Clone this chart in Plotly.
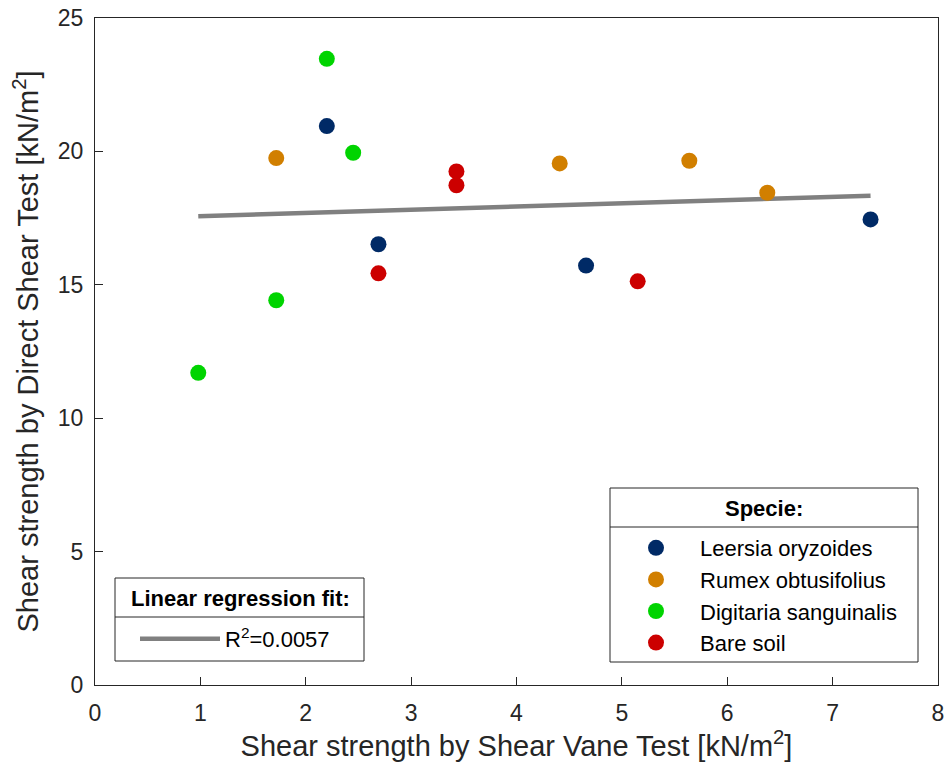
import numpy as np
import plotly.graph_objects as go

# ---- data ----
species = ["Leersia oryzoides", "Rumex obtusifolius", "Digitaria sanguinalis", "Bare soil"]
colors = ["#002A66", "#D17F00", "#00D400", "#CC0000"]

leersia_x = [2.20, 2.69, 4.66, 7.36]
leersia_y = [20.95, 16.52, 15.72, 17.45]
rumex_x = [1.72, 4.41, 5.64, 6.38]
rumex_y = [19.75, 19.55, 19.65, 18.45]
digitaria_x = [0.98, 1.72, 2.20, 2.45]
digitaria_y = [11.70, 14.42, 23.47, 19.95]
bare_x = [2.69, 3.43, 3.43, 5.15]
bare_y = [15.43, 19.25, 18.73, 15.13]

r2_label = "R<sup>2</sup>=0.0057"
x_ticks = [0, 1, 2, 3, 4, 5, 6, 7, 8]
y_ticks = [0, 5, 10, 15, 20, 25]

xs = [leersia_x, rumex_x, digitaria_x, bare_x]
ys = [leersia_y, rumex_y, digitaria_y, bare_y]

all_x = np.concatenate([np.array(v, float) for v in xs])
all_y = np.concatenate([np.array(v, float) for v in ys])
slope, intercept = np.polyfit(all_x, all_y, 1)
fit_x = np.array([all_x.min(), all_x.max()])
fit_y = slope * fit_x + intercept

FONT = "Liberation Sans, Arial, sans-serif"
AX = "#262626"

fig = go.Figure()
fig.add_trace(go.Scatter(x=fit_x, y=fit_y, mode="lines", name=r2_label,
                         line=dict(color="#808080", width=4.5),
                         legend="legend2"))
for name, c, x, y in zip(species, colors, xs, ys):
    fig.add_trace(go.Scatter(x=x, y=y, mode="markers", name=name,
                             marker=dict(color=c, size=16, line=dict(width=0)),
                             legend="legend"))

W, H = 945, 772
SL, SR, ST, SB = 95, 938, 18, 685          # plot area in screen pixels
L, T = SL, ST
R = W - SR
B = H - SB
pw, ph = SR - SL, SB - ST


def px(xp):
    return (xp - SL) / pw


def py(yp):
    return (SB - yp) / ph


shapes = []
annotations = []
# species legend box
shapes.append(dict(type="rect", xref="paper", yref="paper", x0=px(610), x1=px(918),
                   y0=py(662), y1=py(488), line=dict(color=AX, width=1), fillcolor="white",
                   layer="below"))
shapes.append(dict(type="line", xref="paper", yref="paper", x0=px(610), x1=px(918),
                   y0=py(527), y1=py(527), line=dict(color=AX, width=1)))
annotations.append(dict(xref="paper", yref="paper", x=px(764), y=py(508), text="<b>Specie:</b>",
                        showarrow=False, font=dict(size=22, color="black", family=FONT),
                        xanchor="center", yanchor="middle"))
# regression legend box
shapes.append(dict(type="rect", xref="paper", yref="paper", x0=px(115), x1=px(364),
                   y0=py(661), y1=py(578), line=dict(color=AX, width=1), fillcolor="white",
                   layer="below"))
shapes.append(dict(type="line", xref="paper", yref="paper", x0=px(115), x1=px(364),
                   y0=py(617), y1=py(617), line=dict(color=AX, width=1)))
annotations.append(dict(xref="paper", yref="paper", x=px(240), y=py(598),
                        text="<b>Linear regression fit:</b>",
                        showarrow=False, font=dict(size=22, color="black", family=FONT),
                        xanchor="center", yanchor="middle"))

fig.update_layout(
    width=W, height=H,
    margin=dict(l=L, r=R, t=T, b=B, autoexpand=False),
    paper_bgcolor="white", plot_bgcolor="white",
    font=dict(family=FONT, color=AX),
    shapes=shapes, annotations=annotations,
    legend=dict(x=px(612), y=py(527), xanchor="left", yanchor="top",
                bgcolor="rgba(0,0,0,0)", borderwidth=0, itemwidth=78,
                font=dict(size=22, color="black", family=FONT), tracegroupgap=0),
    legend2=dict(x=px(135), y=py(618), xanchor="left", yanchor="top",
                 bgcolor="rgba(0,0,0,0)", borderwidth=0, itemwidth=80,
                 font=dict(size=22, color="black", family=FONT)),
)
fig.update_xaxes(range=[0, 8], tickvals=x_ticks, showgrid=False, zeroline=False,
                 showline=True, mirror=True, linecolor=AX, linewidth=1,
                 ticks="inside", ticklen=8, tickcolor=AX, automargin=False,
                 ticklabelstandoff=7, ticklabeloverflow="allow",
                 tickfont=dict(size=23, color=AX, family=FONT),
                 title=dict(text="Shear strength by Shear Vane Test [kN/m<sup>2</sup>]",
                            font=dict(size=29, color=AX, family=FONT), standoff=8))
fig.update_yaxes(range=[0, 25], tickvals=y_ticks, showgrid=False, zeroline=False,
                 showline=True, mirror=True, linecolor=AX, linewidth=1,
                 ticks="inside", ticklen=8, tickcolor=AX, automargin=False,
                 ticklabelstandoff=6, ticklabeloverflow="allow",
                 tickfont=dict(size=23, color=AX, family=FONT),
                 title=dict(text="Shear strength by Direct Shear Test [kN/m<sup>2</sup>]",
                            font=dict(size=29, color=AX, family=FONT), standoff=10))

fig.write_html("out.html",
               config={"displayModeBar": False},
               post_script="document.body.style.margin='0';document.body.style.overflow='hidden';")
